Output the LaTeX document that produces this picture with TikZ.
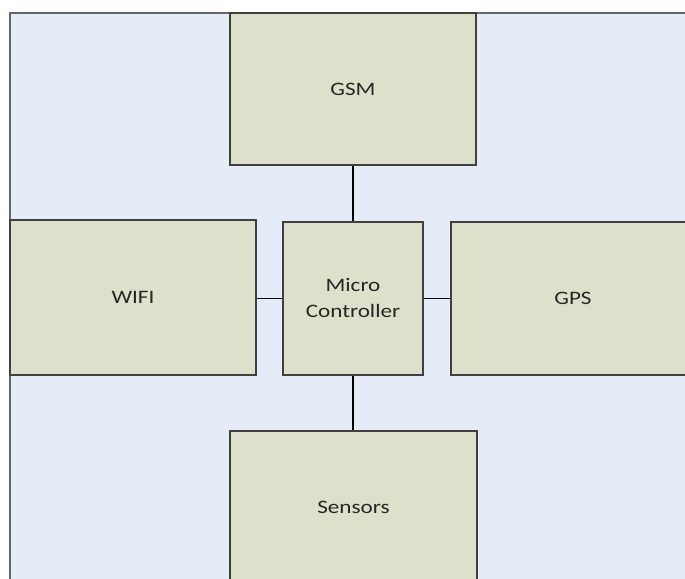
\documentclass[tikz,border=0pt]{standalone}
\usepackage{fontspec}
\newfontfamily\lblfont[FakeStretch=1.22]{Carlito}
\definecolor{bgblue}{HTML}{E5ECF7}
\definecolor{boxfill}{HTML}{DDE0CA}
\definecolor{boxline}{HTML}{404040}
\tikzset{
  blockbox/.style={draw=boxline, line width=2pt, fill=boxfill, inner sep=0pt,
    align=center, font=\lblfont\fontsize{19}{26}\selectfont, text=black!85},
  wire/.style={draw=black, line width=1.5pt}
}
\begin{document}
\begin{tikzpicture}[x=1pt,y=-1pt]
\useasboundingbox (0,0) rectangle (685,578);
\clip (0,0) rectangle (685,578);
\filldraw[fill=bgblue, draw=gray!80!black, line width=2pt] (10,13) rectangle (700,600);
\node[blockbox, minimum width=246pt, minimum height=152pt] (gsm) at (353,89) {GSM};
\node[blockbox, minimum width=246pt, minimum height=155pt] (wifi) at (133,297.5) {WIFI};
\node[blockbox, minimum width=140pt, minimum height=153pt] (mc) at (353,298.5) {Micro\\Controller};
\node[blockbox, minimum width=244pt, minimum height=153pt] (gps) at (573,298.5) {GPS};
\node[blockbox, minimum width=247pt, minimum height=153pt] (sens) at (353.5,507.5) {Sensors};
\draw[wire] (gsm.south) -- (mc.north);
\draw[wire] (mc.south) -- (sens.north -| mc.south);
\draw[wire] (wifi.east |- mc.west) -- (mc.west);
\draw[wire] (mc.east) -- (gps.west);
\end{tikzpicture}
\end{document}
